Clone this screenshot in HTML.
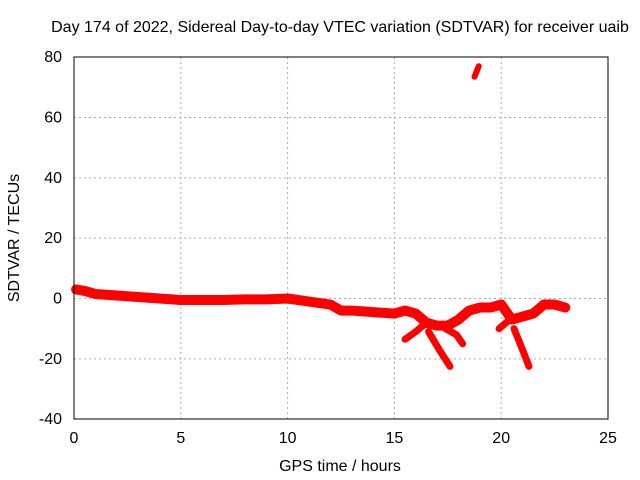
<!DOCTYPE html>
<html><head><meta charset="utf-8"><style>
body{margin:0;background:#fff}
svg{display:block;font-family:"Liberation Sans",sans-serif;font-size:16px}
</style></head><body>
<svg id="c" width="640" height="480">
<text x="340" y="32" text-anchor="middle" style="font-size:16px">Day 174 of 2022, Sidereal Day-to-day VTEC variation (SDTVAR) for receiver uaib</text>
<text x="340" y="471" text-anchor="middle">GPS time / hours</text>
<text transform="translate(19,238) rotate(-90)" text-anchor="middle">SDTVAR / TECUs</text>
<g id="grid"></g><g id="marks"></g>
<rect x="74" y="57" width="534" height="362" fill="none" stroke="#000"/>
</svg>
<script>
const xTicks=[0,5,10,15,20,25];
const yTicks=[-40,-20,0,20,40,60,80];
const mainHours=[0.1,0.5,1,2,3,4,5,6,7,8,9,10,11,12,12.5,13,14,15,15.5,16,16.5,17,17.5,18,18.5,19,19.5,20,20.5,21,21.5,22,22.5,23];
const mainValues=[3,2.5,1.5,1,0.5,0,-0.5,-0.5,-0.5,-0.3,-0.3,0,-1,-2,-4,-4,-4.5,-5,-4,-5,-8,-9,-9,-7,-4,-3,-3,-2,-7,-6,-5,-2,-2,-3];
const branch1Hours=[15.5,16,16.5];const branch1Values=[-13.5,-11,-8];
const branch2Hours=[16.6,17.1,17.6];const branch2Values=[-11,-17,-22.5];
const branch3Hours=[17.4,17.9,18.2];const branch3Values=[-10,-12,-15];
const branch4Hours=[19.9,20.4];const branch4Values=[-10,-7];
const branch5Hours=[20.6,21,21.3];const branch5Values=[-10,-17,-22.5];
const topHours=[18.75,18.95];const topValues=[73.5,77];
const X=h=>74+h*(534/25);
const Y=v=>298.5-v*(362/120);
const ns="http://www.w3.org/2000/svg";
const grid=document.getElementById('grid'),marks=document.getElementById('marks'),svg=document.getElementById('c');
xTicks.forEach(t=>{
 if(t>0&&t<25){const l=document.createElementNS(ns,'line');l.setAttribute('x1',X(t));l.setAttribute('x2',X(t));l.setAttribute('y1',57);l.setAttribute('y2',419);l.setAttribute('stroke','#aaa');l.setAttribute('stroke-dasharray','2,3');
 
 grid.appendChild(l);}
 const tx=document.createElementNS(ns,'text');tx.setAttribute('x',X(t));tx.setAttribute('y',443);tx.setAttribute('text-anchor','middle');tx.textContent=t;
 
 svg.appendChild(tx);
});
yTicks.forEach(t=>{
 if(t>-40&&t<80){const l=document.createElementNS(ns,'line');l.setAttribute('x1',74);l.setAttribute('x2',608);l.setAttribute('y1',Y(t));l.setAttribute('y2',Y(t));l.setAttribute('stroke','#aaa');l.setAttribute('stroke-dasharray','2,3');
 
 grid.appendChild(l);}
 const tx=document.createElementNS(ns,'text');tx.setAttribute('x',62);tx.setAttribute('y',Y(t)+5);tx.setAttribute('text-anchor','end');tx.textContent=t;
 
 svg.appendChild(tx);
});
function track(hs,vs,w,name){
 const p=document.createElementNS(ns,'polyline');
 p.setAttribute('points',hs.map((h,i)=>X(h)+','+Y(vs[i])).join(' '));
 p.setAttribute('fill','none');p.setAttribute('stroke','#f00');p.setAttribute('stroke-width',w);p.setAttribute('stroke-linejoin','round');p.setAttribute('stroke-linecap','round');
 
 
 marks.appendChild(p);
}
track(mainHours,mainValues,10,'main-series-band');
track(branch1Hours,branch1Values,7,'branch-series-1');
track(branch2Hours,branch2Values,7,'branch-series-2');
track(branch3Hours,branch3Values,7,'branch-series-3');
track(branch4Hours,branch4Values,7,'branch-series-4');
track(branch5Hours,branch5Values,7,'branch-series-5');
track(topHours,topValues,6,'outlier-series');
</script>
</body></html>
